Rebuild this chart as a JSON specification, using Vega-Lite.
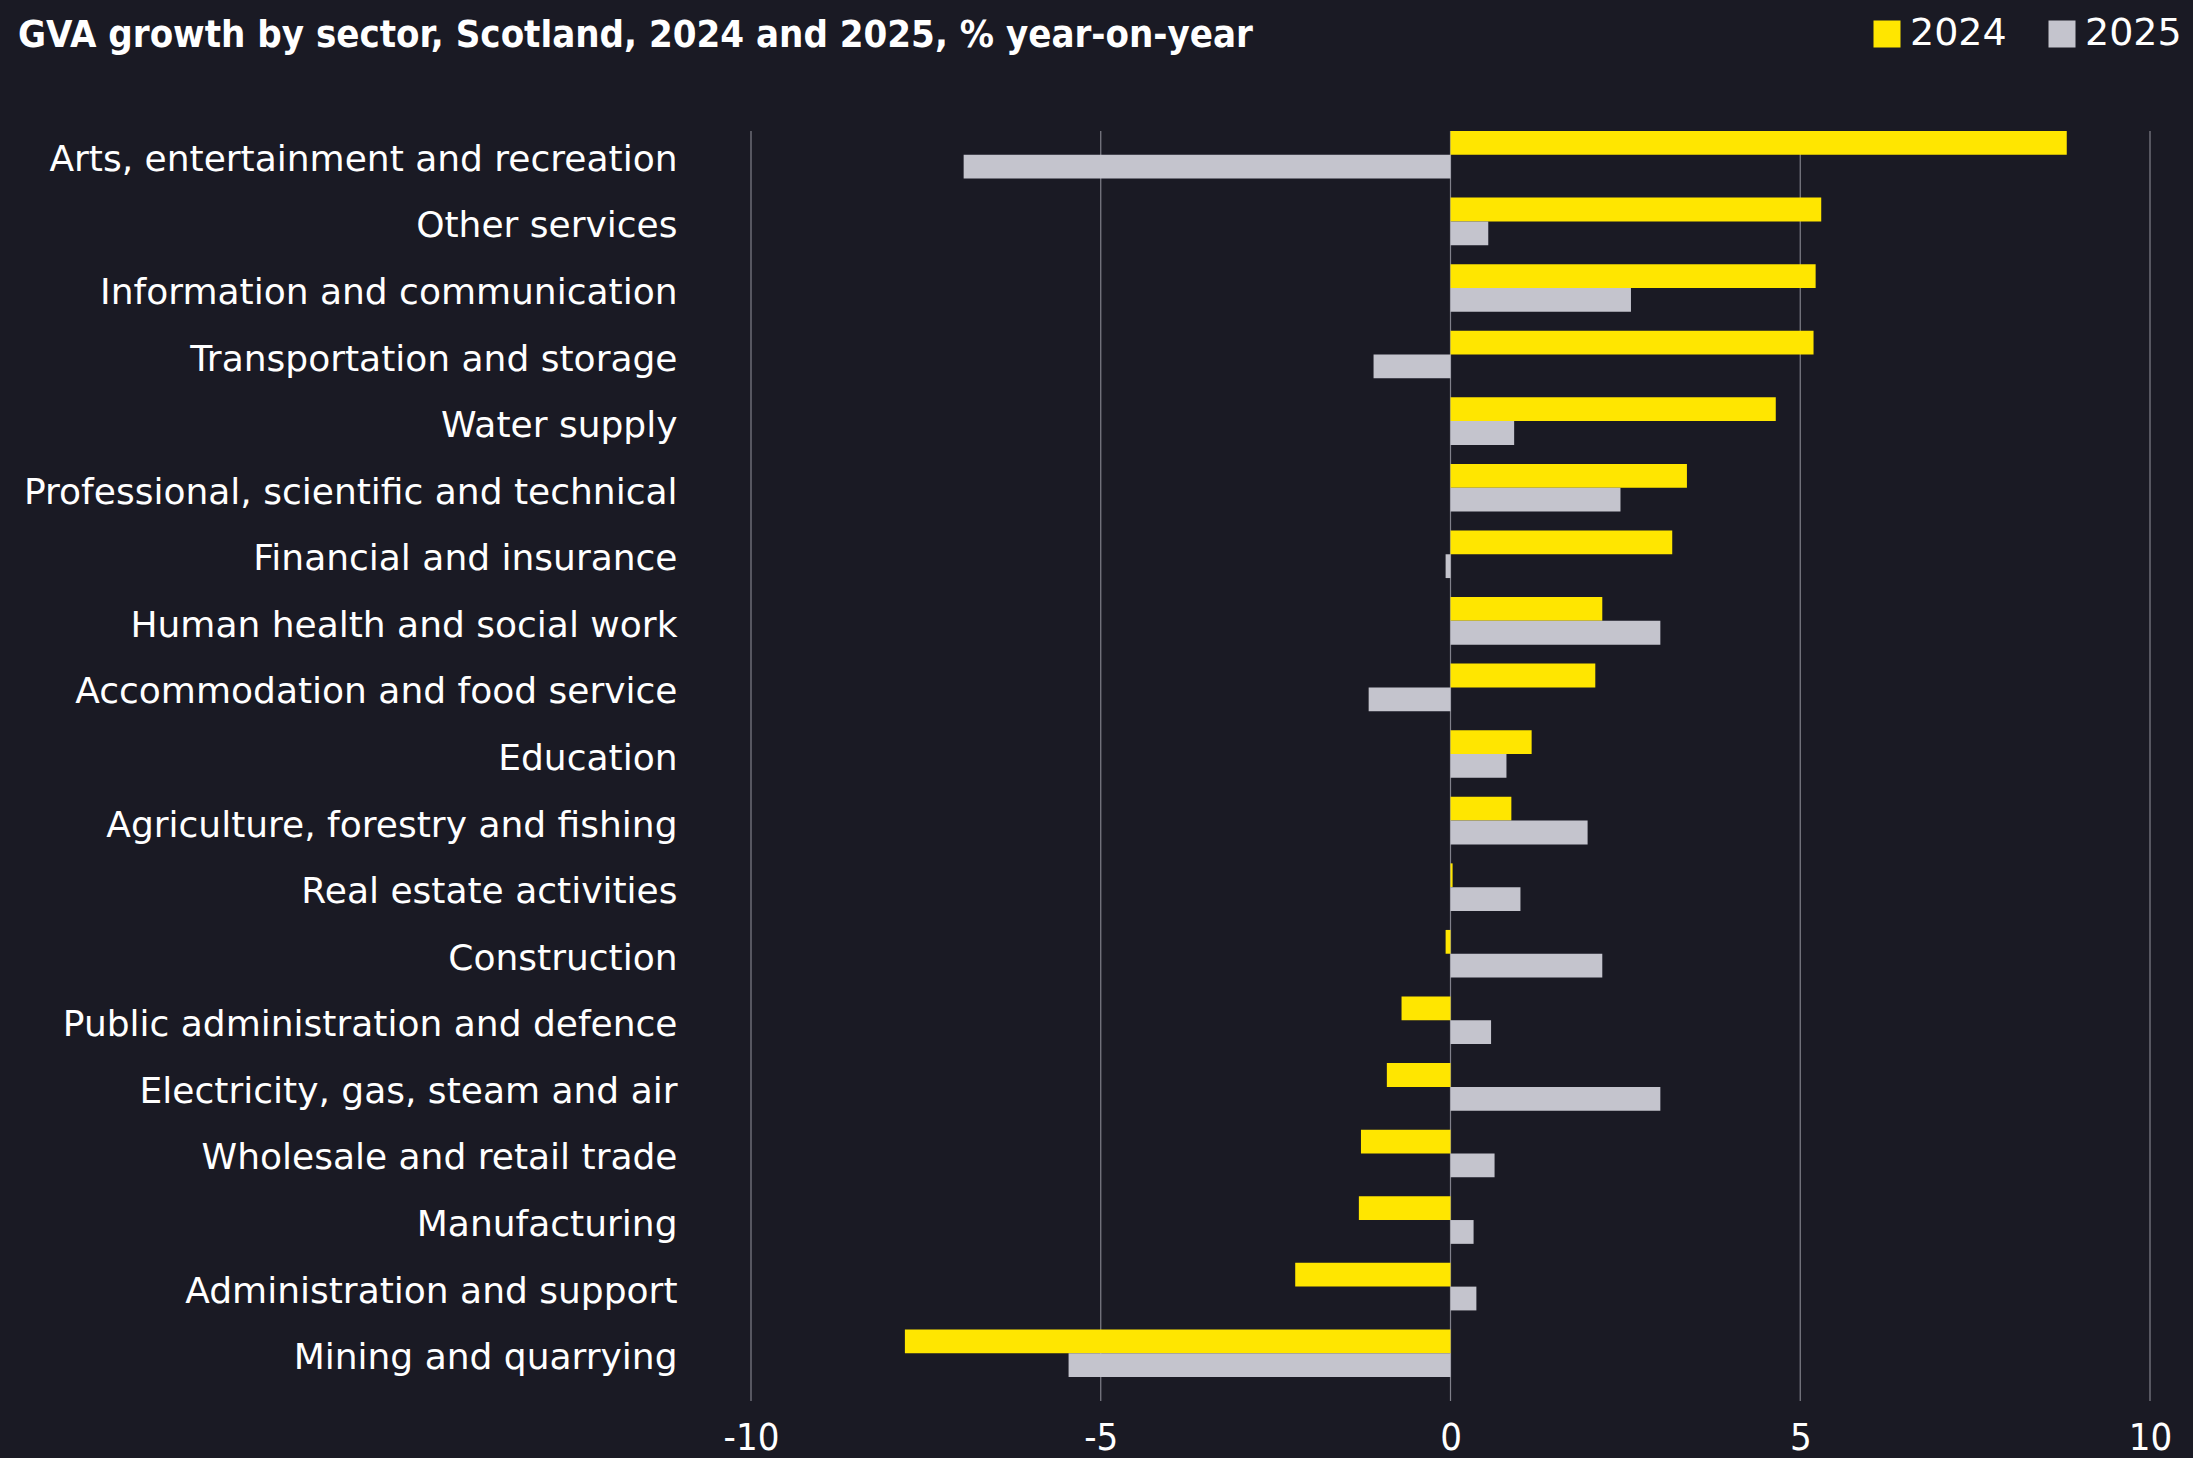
{
  "$schema": "https://vega.github.io/schema/vega-lite/v6.json",
  "autosize": {"type": "none"},
  "padding": {"left": 751, "top": 131, "right": 43, "bottom": 57},
  "width": 1399,
  "height": 1270,
  "background": "#1a1a24",
  "title": {
    "text": "GVA growth by sector, Scotland, 2024 and 2025, % year-on-year",
    "anchor": "start",
    "frame": "group",
    "orient": "top",
    "dx": -733,
    "offset": 0,
    "dy": 70,
    "baseline": "alphabetic",
    "font": "DejaVu Sans Condensed",
    "fontWeight": "bold",
    "fontSize": 38,
    "color": "#ffffff"
  },
  "layer": [
    {
      "data": {"values": [{"tick": -10}, {"tick": -5}, {"tick": 0}, {"tick": 5}, {"tick": 10}]},
      "mark": {"type": "rule", "color": "#80808a", "strokeWidth": 1.2},
      "encoding": {
        "x": {"field": "tick", "type": "quantitative"}
      }
    },
    {
      "data": {
        "values": [
          {"sector": "Arts, entertainment and recreation", "year": "2024", "value": 8.81},
          {"sector": "Arts, entertainment and recreation", "year": "2025", "value": -6.96},
          {"sector": "Other services", "year": "2024", "value": 5.30},
          {"sector": "Other services", "year": "2025", "value": 0.54},
          {"sector": "Information and communication", "year": "2024", "value": 5.22},
          {"sector": "Information and communication", "year": "2025", "value": 2.58},
          {"sector": "Transportation and storage", "year": "2024", "value": 5.19},
          {"sector": "Transportation and storage", "year": "2025", "value": -1.10},
          {"sector": "Water supply", "year": "2024", "value": 4.65},
          {"sector": "Water supply", "year": "2025", "value": 0.91},
          {"sector": "Professional, scientific and technical", "year": "2024", "value": 3.38},
          {"sector": "Professional, scientific and technical", "year": "2025", "value": 2.43},
          {"sector": "Financial and insurance", "year": "2024", "value": 3.17},
          {"sector": "Financial and insurance", "year": "2025", "value": -0.07},
          {"sector": "Human health and social work", "year": "2024", "value": 2.17},
          {"sector": "Human health and social work", "year": "2025", "value": 3.00},
          {"sector": "Accommodation and food service", "year": "2024", "value": 2.07},
          {"sector": "Accommodation and food service", "year": "2025", "value": -1.17},
          {"sector": "Education", "year": "2024", "value": 1.16},
          {"sector": "Education", "year": "2025", "value": 0.80},
          {"sector": "Agriculture, forestry and fishing", "year": "2024", "value": 0.87},
          {"sector": "Agriculture, forestry and fishing", "year": "2025", "value": 1.96},
          {"sector": "Real estate activities", "year": "2024", "value": 0.03},
          {"sector": "Real estate activities", "year": "2025", "value": 1.00},
          {"sector": "Construction", "year": "2024", "value": -0.07},
          {"sector": "Construction", "year": "2025", "value": 2.17},
          {"sector": "Public administration and defence", "year": "2024", "value": -0.70},
          {"sector": "Public administration and defence", "year": "2025", "value": 0.58},
          {"sector": "Electricity, gas, steam and air", "year": "2024", "value": -0.91},
          {"sector": "Electricity, gas, steam and air", "year": "2025", "value": 3.00},
          {"sector": "Wholesale and retail trade", "year": "2024", "value": -1.28},
          {"sector": "Wholesale and retail trade", "year": "2025", "value": 0.63},
          {"sector": "Manufacturing", "year": "2024", "value": -1.31},
          {"sector": "Manufacturing", "year": "2025", "value": 0.33},
          {"sector": "Administration and support", "year": "2024", "value": -2.22},
          {"sector": "Administration and support", "year": "2025", "value": 0.37},
          {"sector": "Mining and quarrying", "year": "2024", "value": -7.80},
          {"sector": "Mining and quarrying", "year": "2025", "value": -5.46}
        ]
      },
      "mark": {"type": "bar"},
      "encoding": {
        "y": {
          "field": "sector",
          "type": "nominal",
          "sort": null,
          "scale": {"paddingInner": 0.285, "paddingOuter": 0, "range": [0, 1246]},
          "axis": {
            "title": null,
            "ticks": false,
            "domain": false,
            "labelPadding": 74,
            "labelOffset": 5,
            "labelFontSize": 36,
            "labelFont": "DejaVu Sans",
            "labelColor": "#ffffff",
            "labelLimit": 900
          }
        },
        "yOffset": {
          "field": "year",
          "type": "nominal",
          "sort": ["2024", "2025"],
          "scale": {"paddingInner": 0, "paddingOuter": 0}
        },
        "x": {
          "field": "value",
          "type": "quantitative",
          "scale": {"domain": [-10, 10], "nice": false},
          "axis": {
            "title": null,
            "values": [-10, -5, 0, 5, 10],
            "grid": false,
            "ticks": false,
            "domain": false,
            "labelFlush": false,
            "labelPadding": 18,
            "labelFontSize": 38,
            "labelFont": "DejaVu Sans Condensed",
            "labelColor": "#ffffff",
            "labelExpr": "datum.value < 0 ? '-' + abs(datum.value) : '' + datum.value"
          }
        },
        "color": {
          "field": "year",
          "type": "nominal",
          "scale": {"domain": ["2024", "2025"], "range": ["#FFE600", "#C4C4CD"]},
          "legend": {
            "title": null,
            "orient": "none",
            "direction": "horizontal",
            "legendX": 1117,
            "legendY": -116,
            "padding": 0,
            "symbolType": "square",
            "symbolSize": 729,
            "symbolStrokeWidth": 0,
            "labelFontSize": 38,
            "labelFont": "DejaVu Sans",
            "labelColor": "#ffffff",
            "labelOffset": 4,
            "columnPadding": 36
          }
        }
      }
    }
  ],
  "config": {
    "view": {"stroke": null}
  }
}
